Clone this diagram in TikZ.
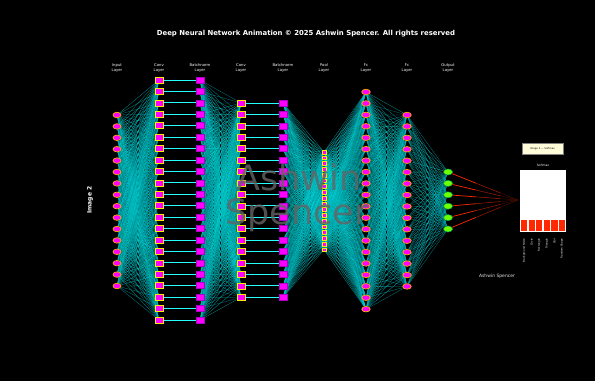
\documentclass[tikz,border=0pt]{standalone}
\usepackage{fontspec}
\setmainfont{DejaVu Sans}
\usetikzlibrary{shapes.geometric,calc}
\pgfdeclarelayer{bgl}
\pgfdeclarelayer{edges}
\pgfsetlayers{bgl,edges,main}
\definecolor{mag}{RGB}{255,0,255}
\definecolor{yel}{RGB}{255,235,0}
\definecolor{ora}{RGB}{255,170,0}
\definecolor{cy}{RGB}{0,255,255}
\definecolor{tl}{RGB}{0,130,140}
\definecolor{grn}{RGB}{0,170,80}
\definecolor{blu}{RGB}{20,80,220}
\definecolor{lime}{RGB}{110,255,0}
\definecolor{rd}{RGB}{255,40,0}
\definecolor{purp}{RGB}{170,0,200}
\definecolor{wmgray}{RGB}{100,100,100}
\begin{document}
\begin{tikzpicture}[x=1pt,y=-1pt,
  inode/.style={ellipse,draw=ora,fill=mag,line width=0.7pt,minimum width=8pt,minimum height=5.5pt,inner sep=0pt},
  convn/.style={rectangle,draw=yel,fill=mag,line width=0.7pt,minimum width=8pt,minimum height=6pt,inner sep=0pt},
  bnn/.style={rectangle,draw=purp,fill=mag,line width=0.6pt,minimum width=8pt,minimum height=6pt,inner sep=0pt},
  pooln/.style={rectangle,draw=yel,fill=mag,line width=0.5pt,minimum size=3.6pt,inner sep=0pt},
  fcn/.style={ellipse,draw=ora,fill=mag,line width=0.7pt,minimum width=8.5pt,minimum height=5.5pt,inner sep=0pt},
  outn/.style={ellipse,draw=grn,fill=lime,line width=0.5pt,minimum width=9pt,minimum height=6pt,inner sep=0pt},
  edge/.style={line width=0.3pt,opacity=0.7},
  link/.style={cy!85!white,line width=1pt},
  lab/.style={white,align=center,font=\fontsize{3.8}{4.8}\selectfont},
]
\begin{pgfonlayer}{bgl}
\fill[black] (0,0) rectangle (595,381);
\end{pgfonlayer}
\pgfmathsetseed{11}
% nodes
\foreach \i in {1,...,16}{\node[inode] (in\i) at (117,{115+(\i-1)*11.4}) {};}
\foreach \i in {1,...,22}{\node[convn] (ca\i) at (159,{80+(\i-1)*11.43}) {};
  \node[bnn] (ba\i) at (200,{80+(\i-1)*11.43}) {};}
\foreach \i in {1,...,18}{\node[convn] (cb\i) at (241,{103+(\i-1)*11.43}) {};
  \node[bnn] (bb\i) at (283,{103+(\i-1)*11.43}) {};}
\foreach \i in {1,...,18}{\node[pooln] (p\i) at (324,{152+(\i-1)*5.75}) {};}
\foreach \i in {1,...,20}{\node[fcn] (fa\i) at (366,{92+(\i-1)*11.43}) {};}
\foreach \i in {1,...,16}{\node[fcn] (fb\i) at (407,{115+(\i-1)*11.43}) {};}
\foreach \i in {1,...,6}{\node[outn] (o\i) at (448,{172+(\i-1)*11.4}) {};}
% edges
\def\edgecol{\pgfmathsetmacro\m{int(30+70*rnd)}\pgfmathsetmacro\g{int(75+25*rnd)}\pgfmathsetmacro\b{int(85+15*rnd)}}
\begin{pgfonlayer}{edges}
\foreach \i in {1,...,16}{\foreach \j in {1,...,22}{\edgecol
  \draw[edge,draw=cy!\m!tl!\g!grn!\b!blu] (in\i) -- (ca\j);}}
\foreach \i in {1,...,22}{\draw[link] (ca\i) -- (ba\i);}
\foreach \i in {1,...,22}{\foreach \j in {1,...,18}{\edgecol
  \draw[edge,draw=cy!\m!tl!\g!grn!\b!blu] (ba\i) -- (cb\j);}}
\foreach \i in {1,...,18}{\draw[link] (cb\i) -- (bb\i);}
\foreach \i in {1,...,18}{\foreach \j in {1,...,18}{\edgecol
  \draw[edge,draw=cy!\m!tl!\g!grn!\b!blu] (bb\i) -- (p\j);}}
\foreach \i in {1,...,18}{\foreach \j in {1,...,20}{\edgecol
  \draw[edge,draw=cy!\m!tl!\g!grn!\b!blu] (p\i) -- (fa\j);}}
\foreach \i in {1,...,20}{\foreach \j in {1,...,16}{\edgecol
  \draw[edge,draw=cy!\m!tl!\g!grn!\b!blu] (fa\i) -- (fb\j);}}
\foreach \i in {1,...,16}{\foreach \j in {1,...,6}{\edgecol
  \draw[edge,draw=cy!\m!tl!\g!grn!\b!blu] (fb\i) -- (o\j);}}
\coordinate (sm) at (518,200);
\foreach \i in {1,...,6}{
  \draw[rd,line width=0.7pt] (o\i) -- ($(o\i)!0.4!(sm)$);
  \draw[rd!65!black,line width=0.5pt] ($(o\i)!0.4!(sm)$) -- ($(o\i)!0.75!(sm)$);
  \draw[rd!30!black,line width=0.4pt] ($(o\i)!0.75!(sm)$) -- (sm);}
\end{pgfonlayer}
% watermark
\node[wmgray,opacity=0.8,font=\fontsize{35}{35}\selectfont] (wm1) at (299,177) {Ashwin};
\node[wmgray,opacity=0.8,font=\fontsize{35}{35}\selectfont] (wm2) at (297,215) {Spencer};
% title and labels
\node[white,font=\bfseries\fontsize{6.9}{8}\selectfont] (title) at (306,34) {Deep Neural Network Animation © 2025 Ashwin Spencer. All rights reserved};
\node[lab] (l1) at (117,68) {Input\\Layer};
\node[lab] (l2) at (159,68) {Conv\\Layer};
\node[lab] (l3) at (200,68) {Batchnorm\\Layer};
\node[lab] (l4) at (241,68) {Conv\\Layer};
\node[lab] (l5) at (283,68) {Batchnorm\\Layer};
\node[lab] (l6) at (324,68) {Pool\\Layer};
\node[lab] (l7) at (366,68) {Fc\\Layer};
\node[lab] (l8) at (407,68) {Fc\\Layer};
\node[lab] (l9) at (448,68) {Output\\Layer};
\node[white,rotate=90,font=\bfseries\fontsize{6}{7}\selectfont] (img) at (90,200) {Image 2};
\node[white!80!gray,font=\fontsize{4.5}{5}\selectfont] (auth) at (497,276) {Ashwin Spencer};
% softmax chart
\node[draw=gray,fill=yellow!15,minimum width=41pt,minimum height=11pt,inner sep=0pt,font=\fontsize{2.5}{3}\selectfont] (leg) at (542.5,148.5) {Image 2 — Softmax};
\node[white,font=\fontsize{3}{3.5}\selectfont] (smt) at (543,165) {Softmax};
\node[fill=white,minimum width=46pt,minimum height=62pt,inner sep=0pt,anchor=north west] (chart) at (520,170) {};
\foreach \k/\t in {1/Background Noise,2/Circle,3/Rectangle,4/Triangle,5/Star,6/Random Shape}{
  \node[fill=rd,minimum width=6.4pt,minimum height=11pt,inner sep=0pt,anchor=south] (bar\k) at ({520.4+(\k-0.5)*7.55},231.6) {};
  \node[white,rotate=90,anchor=east,font=\fontsize{2.6}{3}\selectfont] (bl\k) at (bar\k.south |- 0,235) {\t};}
\end{tikzpicture}
\end{document}
